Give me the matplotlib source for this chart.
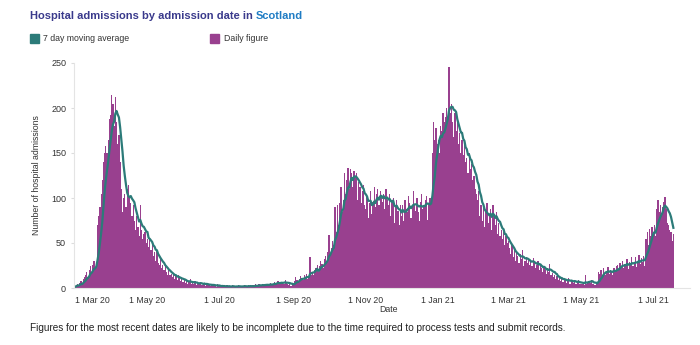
import numpy as np
import matplotlib
matplotlib.use('Agg')
import matplotlib.pyplot as plt
import pandas as pd
from matplotlib.patches import Rectangle

plt.rcParams['font.family'] = ['Liberation Sans', 'DejaVu Sans']

# daily hospital admissions, month by month
mar20 = [1, 3, 4, 3, 6, 8, 5, 10, 12, 14, 18, 12, 20, 24, 18, 26, 30, 22, 28,
         70, 80, 90, 105, 120, 140, 150, 158, 150, 165, 188, 192]
apr20 = [215, 205, 180, 212, 185, 160, 170, 140, 110, 85, 100, 105, 90, 110,
         115, 100, 95, 80, 92, 75, 64, 80, 68, 58, 92, 64, 54, 60, 62, 50]
may20 = [54, 46, 56, 42, 48, 36, 40, 30, 42, 28, 26, 32, 22, 26, 20, 24, 18,
         15, 20, 14, 16, 12, 15, 10, 13, 9, 14, 11, 8, 10, 7]
jun20 = [9, 6, 8, 5, 7, 10, 4, 6, 5, 8, 3, 6, 4, 5, 7, 3, 4, 6, 2, 5, 3, 4, 2,
         3, 5, 2, 3, 1, 4, 2]
jul20 = [2, 1, 3, 2, 1, 2, 3, 1, 2, 1, 2, 3, 1, 1, 2, 2, 3, 1, 2, 1, 2, 3, 2,
         1, 3, 2, 2, 1, 3, 2, 4]
aug20 = [3, 2, 4, 3, 2, 5, 3, 4, 3, 5, 2, 4, 6, 3, 5, 7, 4, 6, 8, 5, 4, 7, 6,
         5, 9, 6, 4, 3, 5, 2, 4]
sep20 = [5, 8, 12, 9, 7, 10, 13, 11, 9, 14, 12, 16, 10, 13, 35, 15, 18, 14,
         20, 22, 26, 18, 24, 30, 27, 22, 32, 36, 30, 40]
oct20 = [59, 38, 45, 52, 48, 90, 62, 92, 70, 95, 112, 85, 98, 128, 105, 120,
         133, 110, 132, 128, 112, 130, 124, 128, 98, 118, 112, 95, 108, 115, 92]
nov20 = [88, 102, 78, 95, 108, 82, 96, 112, 90, 105, 110, 92, 108, 100, 96,
         104, 88, 110, 98, 92, 105, 80, 95, 100, 72, 90, 98, 86, 70, 92]
dec20 = [80, 92, 75, 98, 88, 85, 102, 95, 78, 90, 108, 92, 86, 100, 84, 74,
         96, 105, 88, 92, 98, 102, 76, 94, 100, 95, 150, 185, 165, 178, 160]
jan21 = [165, 150, 180, 175, 195, 185, 190, 200, 188, 246, 195, 205, 185, 168,
         195, 175, 190, 160, 172, 150, 165, 148, 160, 140, 145, 128, 150, 132,
         138, 120, 125]
feb21 = [110, 105, 98, 108, 80, 92, 75, 90, 68, 85, 95, 72, 80, 88, 65, 92,
         78, 70, 85, 60, 72, 58, 65, 55, 62, 48, 58, 50]
mar21 = [52, 45, 38, 48, 35, 42, 30, 40, 36, 28, 38, 32, 42, 25, 30, 35, 28,
         32, 26, 30, 24, 33, 28, 22, 26, 30, 20, 25, 22, 18, 24]
apr21 = [20, 16, 22, 18, 27, 14, 17, 12, 15, 10, 13, 9, 12, 8, 11, 7, 10, 9,
         6, 8, 11, 5, 9, 7, 6, 8, 5, 7, 9, 4]
may21 = [5, 4, 6, 3, 14, 5, 7, 8, 6, 9, 4, 5, 3, 6, 4, 18, 16, 20, 15, 22, 17,
         14, 19, 23, 16, 20, 18, 15, 22, 19, 24]
jun21 = [26, 20, 28, 24, 30, 22, 27, 25, 32, 21, 29, 26, 34, 24, 28, 35, 23,
         30, 37, 27, 33, 29, 36, 25, 55, 62, 48, 66, 58, 68]
jul21 = [62, 70, 58, 88, 98, 84, 92, 80, 90, 96, 101, 88, 72, 70, 64, 62, 52, 60]

daily = (mar20 + apr20 + may20 + jun20 + jul20 + aug20 + sep20 + oct20 + nov20
         + dec20 + jan21 + feb21 + mar21 + apr21 + may21 + jun21 + jul21)

tick_dates = ['2020-03-01', '2020-05-01', '2020-07-01', '2020-09-01',
              '2020-11-01', '2021-01-01', '2021-03-01', '2021-05-01',
              '2021-07-01']
tick_labels = ['1 Mar 20', '1 May 20', '1 Jul 20', '1 Sep 20', '1 Nov 20',
               '1 Jan 21', '1 Mar 21', '1 May 21', '1 Jul 21']
y_ticks = [0, 50, 100, 150, 200, 250]

purple = '#99408f'
teal = '#2c7b79'
grey_txt = '#333333'

df = pd.DataFrame({'date': pd.date_range('2020-03-01', periods=len(daily), freq='D'),
                   'daily': daily})
df['avg'] = df['daily'].rolling(7, min_periods=1).mean()

fig = plt.figure(figsize=(7, 3.45), dpi=100)
ax = fig.add_axes([74.4 / 700, 57 / 345, (690 - 74.4) / 700, 225 / 345])

ax.bar(df['date'], df['daily'], width=1.0, color=purple, linewidth=0)
ax.plot(df['date'], df['avg'], color=teal, linewidth=1.6)

ax.set_xlim(pd.Timestamp('2020-02-29 12:00'), pd.Timestamp('2021-08-01'))
ax.set_ylim(0, 250)
ax.set_xticks(pd.to_datetime(tick_dates))
ax.set_xticklabels(tick_labels, fontsize=6.3, color=grey_txt)
first = ax.get_xticklabels()[0]
first.set_horizontalalignment('left')
ax.set_yticks(y_ticks)
ax.set_yticklabels([str(v) for v in y_ticks], fontsize=6.5, color=grey_txt)
ax.tick_params(axis='x', length=0, pad=6)
ax.tick_params(axis='y', length=2, color='#dddddd', pad=4)
for s in ['top', 'right']:
    ax.spines[s].set_visible(False)
ax.spines['left'].set_color('#e4e4e4')
ax.spines['bottom'].set_color('#e4e4e4')
ax.spines['left'].set_linewidth(0.8)
ax.spines['bottom'].set_linewidth(0.8)
ax.set_ylabel('Number of hospital admissions', fontsize=6.3, color=grey_txt)
ax.yaxis.set_label_coords((41 - 74.4) / (690 - 74.4), 0.5)

fig.text(388 / 700, 1 - 309 / 345, 'Date', fontsize=6.3, color=grey_txt,
         ha='center', va='center')

# title in two colours
t1 = fig.text(30 / 700, 1 - 16 / 345, 'Hospital admissions by admission date in ',
              fontsize=8, fontweight='bold', color='#3a3a8c', va='center')
fig.canvas.draw()
bb = t1.get_window_extent()
fig.text(bb.x1 / 700, 1 - 16 / 345, 'Scotland', fontsize=8, fontweight='bold',
         color='#1f7cc4', va='center')

# legend
fig.add_artist(Rectangle((30 / 700, 1 - 43 / 345), 9 / 700, 9 / 345,
                         transform=fig.transFigure, color=teal))
fig.text(43 / 700, 1 - 38.5 / 345, '7 day moving average', fontsize=6.3,
         color=grey_txt, va='center')
fig.add_artist(Rectangle((210 / 700, 1 - 43 / 345), 9 / 700, 9 / 345,
                         transform=fig.transFigure, color=purple))
fig.text(224 / 700, 1 - 38.5 / 345, 'Daily figure', fontsize=6.3,
         color=grey_txt, va='center')

fig.text(30 / 700, 1 - 328 / 345,
         'Figures for the most recent dates are likely to be incomplete due to '
         'the time required to process tests and submit records.',
         fontsize=7.2, color='#222222', va='center')

fig.savefig('out.png', dpi=100)
